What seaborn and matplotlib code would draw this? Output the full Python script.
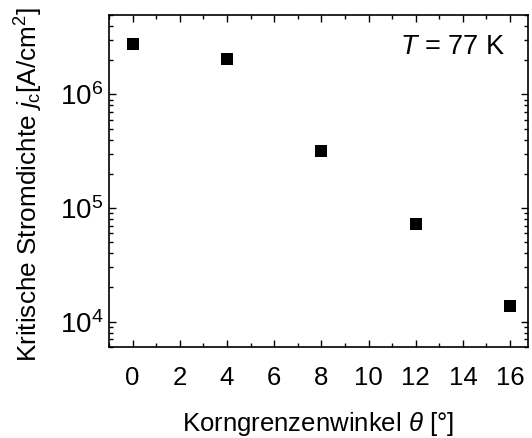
import matplotlib
matplotlib.use('Agg')
import matplotlib.pyplot as plt
import seaborn as sns
import pandas as pd
from matplotlib.ticker import LogLocator, MultipleLocator

# Daten: Korngrenzenwinkel und kritische Stromdichte bei 77 K
winkel = [0, 4, 8, 12, 16]
jc = [2.78e6, 2.05e6, 3.17e5, 7.3e4, 1.38e4]

df = pd.DataFrame({'winkel': winkel, 'jc': jc})

sns.set_style('ticks')
plt.rcParams['font.family'] = ['Liberation Sans', 'DejaVu Sans']
plt.rcParams['mathtext.fontset'] = 'custom'
plt.rcParams['mathtext.rm'] = 'Liberation Sans'
plt.rcParams['mathtext.it'] = 'Liberation Sans:italic'
plt.rcParams['mathtext.default'] = 'regular'
plt.rcParams['text.color'] = 'black'
plt.rcParams['axes.labelcolor'] = 'black'
plt.rcParams['xtick.color'] = 'black'
plt.rcParams['ytick.color'] = 'black'

fig = plt.figure(figsize=(5.32, 4.38), dpi=100)
ax = fig.add_axes([0.205, 0.208, 0.787, 0.758])

sns.scatterplot(x='winkel', y='jc', data=df, marker='s', s=75, color='black',
                edgecolor='black', linewidth=0, ax=ax)

ax.set_yscale('log')
ax.set_xlim(-1, 16.75)
ax.set_ylim(6e3, 5e6)

ax.xaxis.set_major_locator(MultipleLocator(2))
ax.xaxis.set_minor_locator(MultipleLocator(1))
ax.yaxis.set_major_locator(LogLocator(base=10))
ax.yaxis.set_minor_locator(LogLocator(base=10, subs=range(2, 10)))

ax.tick_params(which='both', direction='in', top=True, right=True, width=1,
               color='black', labelcolor='black')
ax.tick_params(which='major', length=5)
ax.tick_params(which='minor', length=3)
ax.tick_params(axis='x', labelsize=18.5, pad=14)
ax.tick_params(axis='y', labelsize=20, pad=4)
for s in ax.spines.values():
    s.set_linewidth(1.2)
    s.set_color('black')

ax.set_xlabel(r'Korngrenzenwinkel $\mathit{\theta}$ [°]', fontsize=18.5, labelpad=14)
ax.set_ylabel(r'Kritische Stromdichte $\mathit{j}_\mathrm{c}$[A/cm$^2$]', fontsize=18.8)
ax.yaxis.set_label_coords(-0.152, 0.49)
ax.text(0.945, 0.904, r'$\mathit{T}$ = 77 K', transform=ax.transAxes, ha='right', va='center', fontsize=19.5)

plt.savefig('out.png', dpi=100)
